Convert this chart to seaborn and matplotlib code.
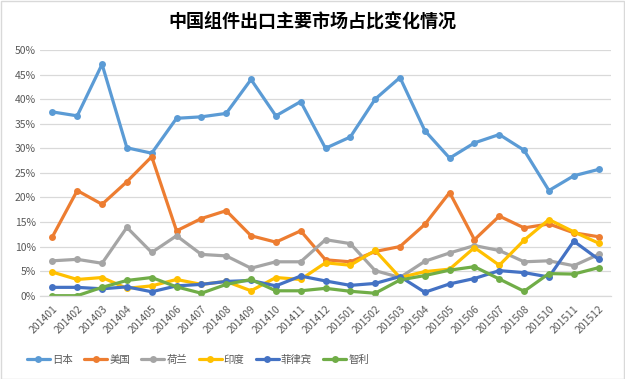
import numpy as np
import pandas as pd
import matplotlib
matplotlib.use("Agg")
import matplotlib.pyplot as plt
import seaborn as sns
from matplotlib.patches import Rectangle

months = ["201401", "201402", "201403", "201404", "201405", "201406", "201407", "201408",
          "201409", "201410", "201411", "201412", "201501", "201502", "201503", "201504",
          "201505", "201506", "201507", "201508", "201510", "201511", "201512"]

japan = [37.4, 36.6, 47.1, 30.1, 29.0, 36.1, 36.4, 37.1, 44.0, 36.6, 39.5, 30.0, 32.3, 40.0,
         44.4, 33.6, 28.0, 31.1, 32.8, 29.6, 21.4, 24.4, 25.7]
usa = [12.0, 21.4, 18.6, 23.2, 28.3, 13.2, 15.7, 17.3, 12.2, 10.9, 13.2, 7.3, 6.9, 9.0,
       10.0, 14.5, 21.0, 11.4, 16.2, 13.8, 14.6, 12.8, 12.0]
netherlands = [7.1, 7.4, 6.6, 13.9, 8.8, 12.2, 8.4, 8.1, 5.6, 6.9, 6.9, 11.4, 10.6, 5.1,
               3.7, 7.0, 8.7, 10.2, 9.2, 6.9, 7.1, 6.1, 8.4]
india = [4.8, 3.3, 3.7, 1.5, 2.0, 3.3, 2.3, 2.9, 1.0, 3.7, 3.3, 6.7, 6.2, 9.2,
         3.7, 4.9, 5.4, 9.8, 6.2, 11.3, 15.5, 13.0, 10.7]
philippines = [1.7, 1.7, 1.4, 1.8, 0.8, 2.0, 2.3, 2.9, 3.1, 2.0, 4.0, 3.0, 2.1, 2.5,
               3.9, 0.7, 2.4, 3.5, 5.1, 4.7, 3.8, 11.1, 7.4]
chile = [0.0, 0.0, 1.7, 3.1, 3.7, 1.8, 0.5, 2.3, 3.3, 1.0, 1.0, 1.5, 0.9, 0.5,
         3.2, 4.1, 5.2, 5.9, 3.4, 0.9, 4.5, 4.4, 5.7]

series_names = ["日本", "美国", "荷兰", "印度", "菲律宾", "智利"]
series_values = [japan, usa, netherlands, india, philippines, chile]
colors = ["#5B9BD5", "#ED7D31", "#A5A5A5", "#FFC000", "#4472C4", "#70AD47"]

rows = []
for name, vals in zip(series_names, series_values):
    for m, v in zip(months, vals):
        rows.append({"month": m, "share": v / 100.0, "country": name})
df = pd.DataFrame(rows)

sns.set_theme(style="white")
plt.rcParams["font.family"] = ["Noto Sans CJK SC", "DejaVu Sans"]

fig = plt.figure(figsize=(6.25, 3.79), dpi=100)
ax = fig.add_axes([40 / 625, 1 - 295.7 / 379, 571 / 625, (295.7 - 50) / 379])

sns.lineplot(data=df, x="month", y="share", hue="country", hue_order=series_names,
             palette=dict(zip(series_names, colors)), marker="o", markersize=5,
             markeredgewidth=0, linewidth=2.3, sort=False, ax=ax, legend=True)

ax.set_xlim(-0.5, len(months) - 0.5)
ax.set_ylim(0, 0.5)
yt = np.arange(0, 0.51, 0.05)
ax.set_yticks(yt)
ax.set_yticklabels([f"{int(round(t * 100))}%" for t in yt], fontsize=7.5, color="#595959")
ax.set_xticks(range(len(months)))
ax.set_xticklabels(months, rotation=45, ha="right", rotation_mode="anchor",
                   fontsize=7.5, color="#595959")
ax.tick_params(axis="both", length=0, pad=3)
ax.tick_params(axis="x", pad=6)
ax.yaxis.grid(True, color="#D9D9D9", linewidth=0.9)
ax.set_axisbelow(True)
for s in ["left", "right", "top"]:
    ax.spines[s].set_visible(False)
ax.spines["bottom"].set_color("#D9D9D9")
ax.spines["bottom"].set_linewidth(0.9)
ax.set_xlabel("")
ax.set_ylabel("")

handles, labels = ax.get_legend_handles_labels()
ax.get_legend().remove()
leg = fig.legend(handles, labels, loc="center left", bbox_to_anchor=(27 / 625, 1 - 360 / 379),
                 ncol=6, frameon=False, fontsize=7.5, handlelength=2.2, handletextpad=0.2,
                 columnspacing=1.1, borderpad=0, borderaxespad=0)
for t in leg.get_texts():
    t.set_color("#595959")

fig.text(0.5, 1 - 22 / 379, "中国组件出口主要市场占比变化情况", ha="center", va="center",
         fontsize=13, fontweight="bold", color="#000000")

fig.patches.append(Rectangle((0.5 / 625, 0.5 / 379), 1 - 1.5 / 625, 1 - 1.5 / 379,
                             transform=fig.transFigure, fill=False, edgecolor="#D9D9D9",
                             linewidth=1.0))

fig.savefig("out.png", dpi=100)
